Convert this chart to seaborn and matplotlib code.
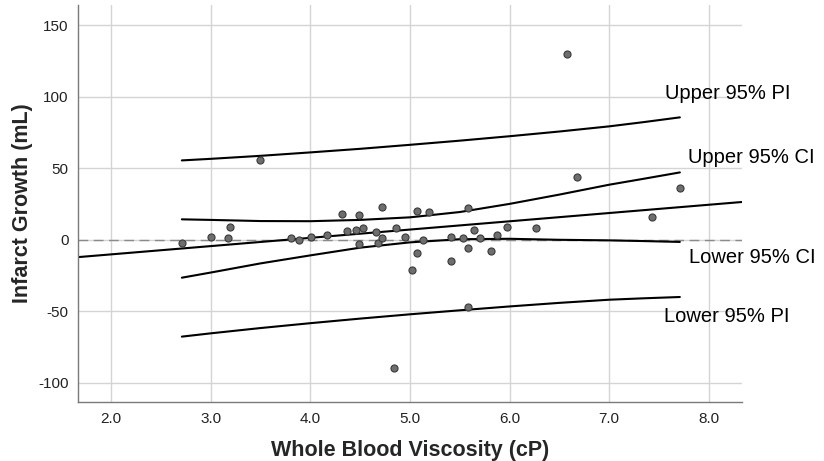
import matplotlib
matplotlib.use("Agg")
import matplotlib.pyplot as plt
import seaborn as sns
import pandas as pd

# ---- data ----
viscosity = [2.71, 3.00, 3.19, 3.17, 3.49, 3.81, 3.89, 4.01, 4.17, 4.32, 4.37, 4.46, 4.49, 4.53,
             4.49, 4.66, 4.68, 4.72, 4.72, 4.86, 4.95, 5.07, 5.19, 5.13, 5.07, 5.02, 5.41, 5.41,
             5.53, 5.58, 5.64, 5.70, 5.58, 5.81, 5.87, 5.97, 6.27, 6.68, 7.43, 7.71, 6.58, 4.84, 5.58]
growth = [-2, 2, 9, 1, 56, 1, 0, 2, 3, 18, 6, 7, 17, 8,
          -3, 5, -2, 23, 1, 8, 2, 20, 19, 0, -9, -21, 2, -15,
          1, 22, 7, 1, -6, -8, 3, 9, 8, 44, 16, 36, 130, -90, -47]

fit_x = [1.67, 8.33]
fit_y = [-12.2, 26.3]

band_x = [2.71, 3.0, 3.5, 4.0, 4.5, 5.0, 5.5, 6.0, 6.5, 7.0, 7.35, 7.71]
upper_ci = [14.2, 13.8, 13.0, 12.9, 13.8, 15.6, 19.3, 25.0, 31.5, 38.4, 42.6, 47.0]
lower_ci = [-26.6, -23.0, -16.6, -11.0, -5.6, -1.9, 0.3, 0.6, -0.1, -0.5, -1.0, -1.6]
upper_pi = [55.4, 56.5, 58.6, 61.0, 63.5, 66.3, 69.2, 72.3, 75.6, 79.2, 82.2, 85.5]
lower_pi = [-67.8, -65.5, -61.8, -58.4, -55.2, -52.2, -49.4, -46.7, -44.2, -42.0, -41.0, -40.1]

band_labels = ["Upper 95% PI", "Upper 95% CI", "Lower 95% CI", "Lower 95% PI"]
label_x = [7.56, 7.79, 7.80, 7.55]
label_y = [102.4, 57.7, -12.2, -53.5]

x_ticks = [2.0, 3.0, 4.0, 5.0, 6.0, 7.0, 8.0]
y_ticks = [-100, -50, 0, 50, 100, 150]

# ---- style ----
sns.set_style("whitegrid")
plt.rcParams["font.family"] = ["Liberation Sans", "DejaVu Sans"]
plt.rcParams["axes.unicode_minus"] = False

fig = plt.figure(figsize=(8.24, 4.61), dpi=100)
ax = fig.add_axes([0.095, 0.128, 0.805, 0.861])

ax.axhline(0, color="#8a8a8a", lw=1.0, dashes=(7, 4), zorder=1)

line_kw = dict(color="black", lw=1.5, sort=False, estimator=None, zorder=2)
sns.lineplot(x=fit_x, y=fit_y, ax=ax, **line_kw)
for ys in (upper_ci, lower_ci, upper_pi, lower_pi):
    sns.lineplot(x=band_x, y=ys, ax=ax, **line_kw)

df = pd.DataFrame({"Whole Blood Viscosity (cP)": viscosity, "Infarct Growth (mL)": growth})
sns.scatterplot(data=df, x="Whole Blood Viscosity (cP)", y="Infarct Growth (mL)", ax=ax,
                s=26, color="#6e6e6e", edgecolor="#3a3a3a", linewidth=0.8, zorder=3)

for txt, lx, ly in zip(band_labels, label_x, label_y):
    ax.text(lx, ly, txt, fontsize=14.5, ha="left", va="center", color="black")

ax.set_xlim(1.67, 8.33)
ax.set_ylim(-113.5, 164)
ax.set_xticks(x_ticks)
ax.set_xticklabels([f"{t:.1f}" for t in x_ticks])
ax.set_yticks(y_ticks)
ax.grid(True, color="#d4d4d4", lw=1.0)
ax.tick_params(length=0, labelsize=11, colors="#222222", pad=7)
ax.set_xlabel("Whole Blood Viscosity (cP)", fontsize=15.5, fontweight="bold", labelpad=10)
ax.set_ylabel("Infarct Growth (mL)", fontsize=15.5, fontweight="bold", labelpad=4)

for side in ("top", "right"):
    ax.spines[side].set_visible(False)
for side in ("left", "bottom"):
    ax.spines[side].set_color("#7a7a7a")
    ax.spines[side].set_linewidth(1.0)

fig.savefig("out.png", dpi=100)
